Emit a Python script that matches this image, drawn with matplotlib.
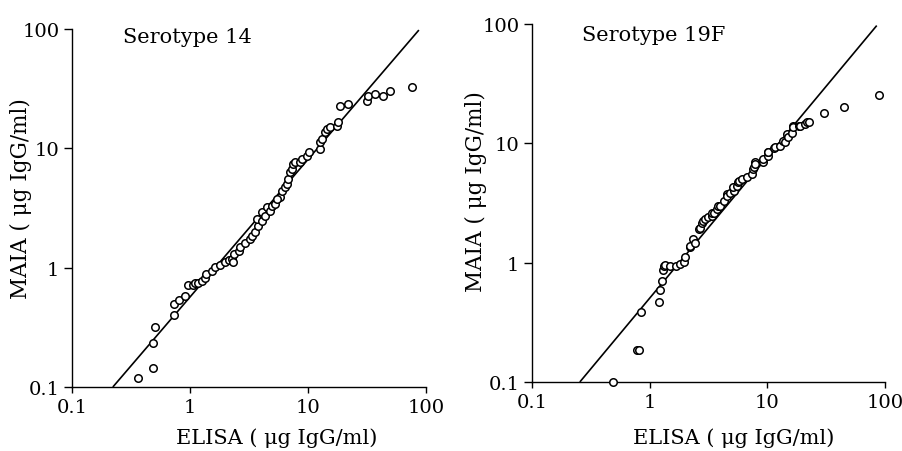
import matplotlib
matplotlib.use("Agg")
import matplotlib.pyplot as plt

# ---------------- data ----------------
titles = ["Serotype 14", "Serotype 19F"]
tick_vals = [0.1, 1, 10, 100]
tick_labels = ["0.1", "1", "10", "100"]
xlabel = "ELISA ( \u03bcg IgG/ml)"
ylabel = "MAIA ( \u03bcg IgG/ml)"

s14_elisa = [0.36, 0.49, 0.49, 0.51, 0.73, 0.73, 0.81, 0.90, 0.97, 1.07, 1.11, 1.17,
             1.26, 1.35, 1.37, 1.53, 1.63, 1.80, 1.99, 2.12, 2.26, 2.31, 2.34, 2.58,
             2.66, 2.93, 3.24, 3.34, 3.57, 3.80, 3.68, 4.06, 4.06, 4.34, 4.48, 4.78,
             4.94, 5.26, 5.80, 5.44, 6.00, 6.40, 6.60, 6.82, 7.05, 7.29, 7.53, 7.78,
             8.58, 8.87, 9.77, 10.1, 12.6, 12.6, 13.1, 14.0, 14.4, 15.4, 17.5, 18.1,
             18.7, 22.0, 31.5, 32.5, 37.0, 43.5, 49.5, 75.7]
s14_maia = [0.12, 0.144, 0.235, 0.318, 0.405, 0.495, 0.54, 0.574, 0.72, 0.71, 0.75, 0.75,
            0.78, 0.82, 0.877, 0.946, 1.01, 1.05, 1.12, 1.15, 1.19, 1.11, 1.31, 1.39,
            1.49, 1.61, 1.74, 1.84, 1.98, 2.25, 2.56, 2.48, 2.92, 2.73, 3.21, 3.00,
            3.31, 3.42, 3.89, 3.77, 4.43, 4.72, 5.03, 5.55, 6.30, 6.72, 7.40, 7.65,
            7.65, 8.15, 8.69, 9.27, 9.89, 11.2, 12.0, 13.6, 14.5, 15.0, 15.5, 16.5,
            22.8, 23.6, 25.1, 27.6, 28.6, 27.6, 30.4, 32.5]
s14_line_x = [0.222, 87.0]
s14_line_y = [0.1, 98.0]

s19_elisa = [0.49, 0.78, 0.815, 0.84, 1.19, 1.23, 1.27, 1.31, 1.33, 1.35, 1.50, 1.68,
             1.82, 1.94, 2.00, 2.18, 2.20, 2.33, 2.44, 2.60, 2.68, 2.78, 2.86, 2.96,
             3.16, 3.37, 3.37, 3.49, 3.72, 3.84, 3.98, 4.25, 4.52, 4.53, 4.84, 5.16,
             5.14, 5.50, 5.67, 5.69, 6.07, 6.68, 7.38, 7.60, 7.73, 7.86, 7.88, 9.16,
             9.25, 10.2, 10.2, 10.2, 11.3, 11.6, 12.7, 13.7, 14.2, 14.6, 15.1, 16.1,
             16.5, 16.6, 18.4, 19.0, 20.9, 21.6, 22.4, 30.4, 45.0, 89.4]
s19_maia = [0.10, 0.186, 0.186, 0.386, 0.469, 0.588, 0.704, 0.87, 0.94, 0.96, 0.94, 0.94,
            0.98, 1.02, 1.12, 1.34, 1.38, 1.57, 1.47, 1.91, 1.97, 2.17, 2.24, 2.32,
            2.39, 2.47, 2.63, 2.63, 2.81, 2.99, 2.99, 3.30, 3.75, 3.63, 3.87, 4.00,
            4.27, 4.40, 4.70, 4.85, 5.01, 5.18, 5.52, 6.08, 6.28, 6.92, 6.70, 6.92,
            7.37, 7.87, 8.39, 8.50, 9.06, 9.25, 9.41, 10.5, 10.2, 11.9, 11.2, 12.3,
            14.0, 13.6, 14.0, 14.0, 14.5, 15.0, 14.96, 17.9, 20.0, 25.4]
s19_line_x = [0.255, 85.0]
s19_line_y = [0.1, 97.0]

panels = [
    (titles[0], s14_elisa, s14_maia, s14_line_x, s14_line_y),
    (titles[1], s19_elisa, s19_maia, s19_line_x, s19_line_y),
]

# ---------------- layout ----------------
plt.rcParams["font.family"] = ["DejaVu Serif"]
fig = plt.figure(figsize=(9.02, 4.52), dpi=100)
fig.patch.set_facecolor("white")

positions = [
    [0.0798, 0.1416, 0.3925, 0.792],
    [0.5898, 0.1527, 0.3914, 0.792],
]
xlabel_coords = [(0.579, -0.113), (0.572, -0.127)]
ylabel_coords = [(-0.113, 0.53), (-0.127, 0.536)]
title_pos = [(0.144, 0.978), (0.142, 0.972)]

for i, (ttl, xs, ys, lx, ly) in enumerate(panels):
    ax = fig.add_axes(positions[i])
    ax.set_xscale("log")
    ax.set_yscale("log")
    ax.set_xlim(0.1, 100)
    ax.set_ylim(0.1, 100)
    ax.plot(lx, ly, color="black", lw=1.2, zorder=2, solid_capstyle="butt")
    ax.plot(xs, ys, linestyle="none", marker="o", markersize=5.4,
            markerfacecolor="white", markeredgecolor="black",
            markeredgewidth=1.1, zorder=3, clip_on=False)
    for side in ["top", "right"]:
        ax.spines[side].set_visible(False)
    for side in ["left", "bottom"]:
        ax.spines[side].set_linewidth(1.0)
    ax.set_xticks(tick_vals)
    ax.set_xticklabels(tick_labels)
    ax.set_yticks(tick_vals)
    ax.set_yticklabels(tick_labels)
    ax.minorticks_off()
    ax.tick_params(axis="x", direction="out", length=4, width=1.0, pad=4,
                   labelsize=14)
    ax.tick_params(axis="y", direction="out", length=6, width=1.0, pad=3,
                   labelsize=14)
    ax.set_xlabel(xlabel, fontsize=15)
    ax.set_ylabel(ylabel, fontsize=15.5)
    ax.xaxis.set_label_coords(*xlabel_coords[i])
    ax.yaxis.set_label_coords(*ylabel_coords[i])
    ax.text(title_pos[i][0], title_pos[i][1], ttl, transform=ax.transAxes,
            ha="left", va="center", fontsize=15)

fig.savefig("out.png", dpi=100, facecolor="white")
